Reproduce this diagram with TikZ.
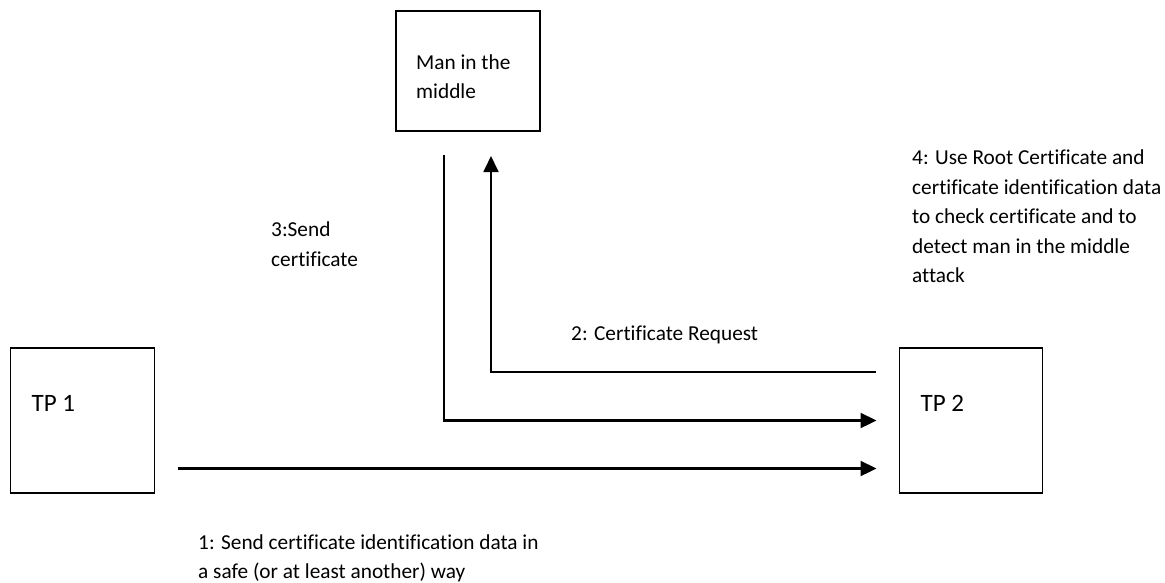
\documentclass[tikz,border=0pt]{standalone}
\usepackage{fontspec}
\setmainfont{Carlito}[Ligatures={NoCommon}]
\usetikzlibrary{arrows.meta,positioning}

\begin{document}
\begin{tikzpicture}[
    x=1pt, y=-1pt,
    node distance=349.5pt,
    >={Triangle[length=16pt,width=15pt]},
    font=\fontsize{21.3}{29.5}\selectfont,
    party/.style={
		rectangle,
		draw=black,
		line width=1.8pt,
		minimum width=144pt,
		minimum height=145pt,
		inner sep=0pt,
		outer sep=0pt
	},
	note/.style={
		anchor=base west,
		inner sep=0pt,
		align=left
	},
	tpname/.style={
		note,
		font=\fontsize{25}{30}\selectfont
	},
	flow/.style={
		draw,
		->,
		line width=2.3pt
	}
  ]
  \useasboundingbox (0,0) rectangle (1165,582);

    % We start by placing the blocks
  \node [party, minimum height=120pt] (mitm) at (468,71) {};
  \node [party, below of=mitm, xshift=-385.5pt] (tp1) {};
  \node [party, below of=mitm, xshift=503pt, minimum width=143pt] (tp2) {};

  % the base of a text is the base of its last line
  \node [note] (mitmtext) at ([xshift=20pt, yshift=-87.5pt]mitm.north west) {Man in the\\middle};
  \node [tpname] (tp1text) at ([xshift=21pt, yshift=-63pt]tp1.north west) {TP 1};
  \node [tpname] (tp2text) at ([xshift=21pt, yshift=-63pt]tp2.north west) {TP 2};

  \node [note] (sendtext) at (271,266) {3:Send\\certificate};
  \node [note] (checktext) at (912,282.5)
  {4: Use Root Certificate and\\certificate identification data\\to check certificate and to\\detect man in the middle\\attack};
  \node [note] (requesttext) at (571,340) {2: Certificate Request};
  \node [note] (idtext) at (198,578.5)
  {1: Send certificate identification data in\\a safe (or at least another) way};

 \draw [flow, shorten <=23pt, shorten >=23pt] ([yshift=-48pt]tp1.east) -- ([yshift=-48pt]tp2.west);
 \draw [flow, shorten <=24pt, shorten >=23pt] ([xshift=48pt]mitm.south west) |- (tp2.west);
 \draw [flow, line width=1.8pt, shorten <=24pt, shorten >=25pt] ([yshift=48.5pt]tp2.west) -| ([xshift=95pt]mitm.south west);

\end{tikzpicture}
\end{document}
